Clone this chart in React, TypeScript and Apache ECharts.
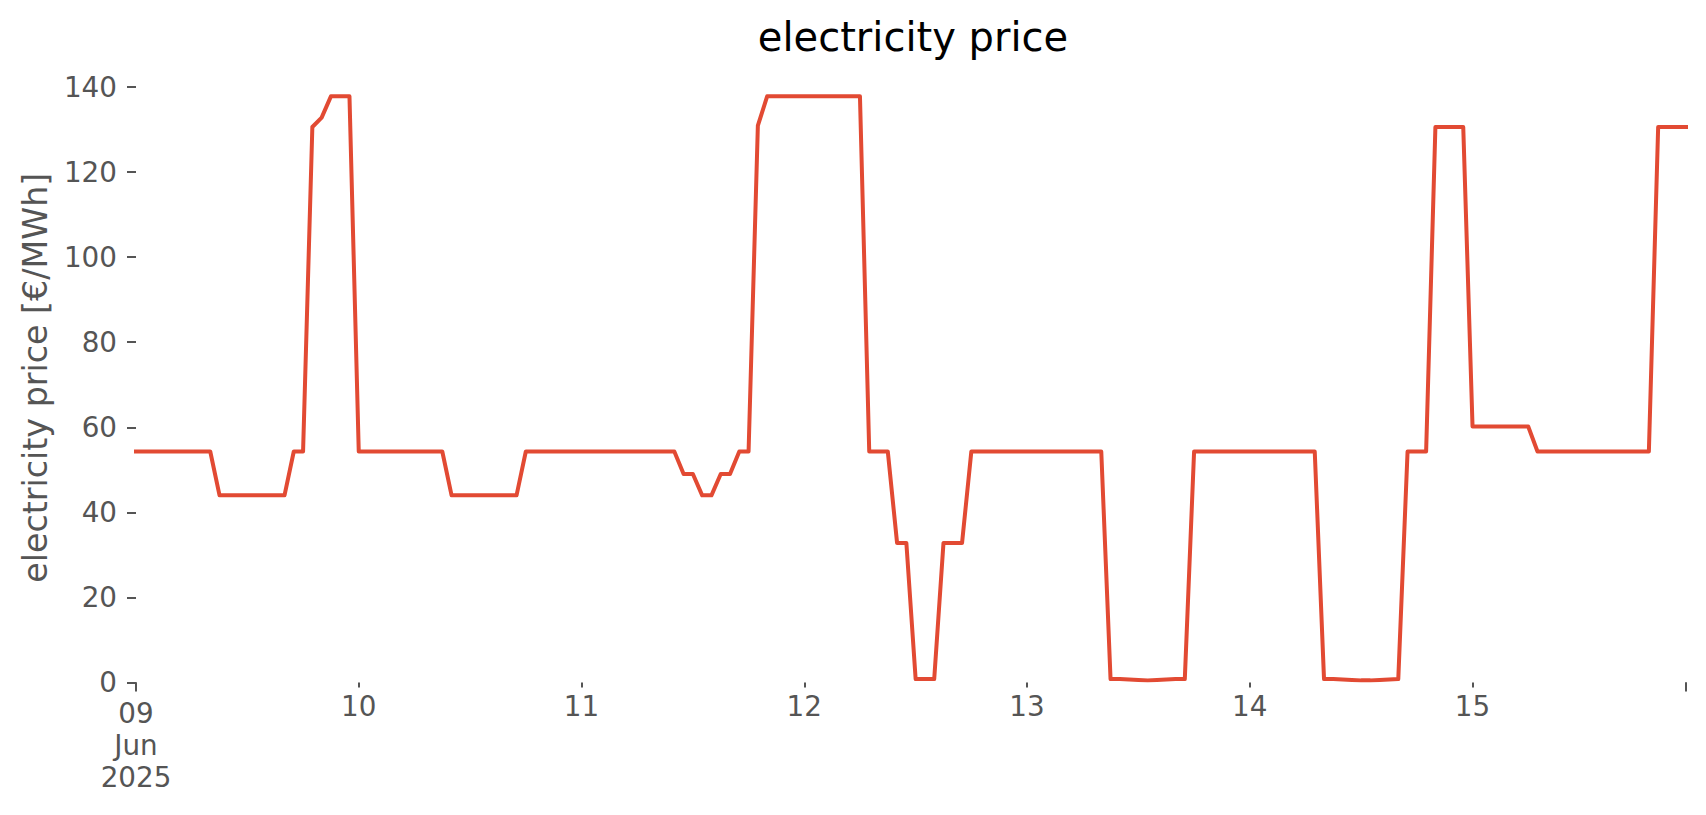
import React, { useEffect, useRef } from 'react';
import * as echarts from 'echarts';

// Hourly electricity price [€/MWh], 09 Jun 2025 00:00 .. 15 Jun 2025 23:00
const dayLabels = ['09\nJun\n2025', '10', '11', '12', '13', '14', '15'];

const jun09 = [
  54.3, 54.3, 54.3, 54.3, 54.3, 54.3, 54.3, 54.3, 54.3,
  44.0, 44.0, 44.0, 44.0, 44.0, 44.0, 44.0, 44.0,
  54.3, 54.3,
  130.6, 132.8, 137.8, 137.8, 137.8,
];
const jun10 = [
  54.3, 54.3, 54.3, 54.3, 54.3, 54.3, 54.3, 54.3, 54.3, 54.3,
  44.0, 44.0, 44.0, 44.0, 44.0, 44.0, 44.0, 44.0,
  54.3, 54.3, 54.3, 54.3, 54.3, 54.3,
];
const jun11 = [
  54.3, 54.3, 54.3, 54.3, 54.3, 54.3, 54.3, 54.3, 54.3, 54.3, 54.3,
  49.0, 49.0, 44.0, 44.0, 49.0, 49.0,
  54.3, 54.3,
  130.9, 137.8, 137.8, 137.8, 137.8,
];
const jun12 = [
  137.8, 137.8, 137.8, 137.8, 137.8, 137.8, 137.8,
  54.3, 54.3, 54.3,
  32.8, 32.8,
  0.8, 0.8, 0.8,
  32.8, 32.8, 32.8,
  54.3, 54.3, 54.3, 54.3, 54.3, 54.3,
];
const jun13 = [
  54.3, 54.3, 54.3, 54.3, 54.3, 54.3, 54.3, 54.3, 54.3,
  0.8, 0.8, 0.7, 0.6, 0.5, 0.6, 0.7, 0.8, 0.8,
  54.3, 54.3, 54.3, 54.3, 54.3, 54.3,
];
const jun14 = [
  54.3, 54.3, 54.3, 54.3, 54.3, 54.3, 54.3, 54.3,
  0.8, 0.8, 0.7, 0.6, 0.5, 0.5, 0.6, 0.7, 0.8,
  54.3, 54.3, 54.3,
  130.6, 130.6, 130.6, 130.6,
];
const jun15 = [
  60.2, 60.2, 60.2, 60.2, 60.2, 60.2, 60.2,
  54.3, 54.3, 54.3, 54.3, 54.3, 54.3, 54.3, 54.3, 54.3, 54.3, 54.3, 54.3, 54.3,
  130.6, 130.6, 130.6, 130.6,
];

const prices = [...jun09, ...jun10, ...jun11, ...jun12, ...jun13, ...jun14, ...jun15];
const lastHour = prices.length - 1;

const FONT = 'DejaVu Sans';
const GREY = '#555555';

export default function App() {
  const ref = useRef<HTMLDivElement>(null);

  useEffect(() => {
    if (!ref.current) return;
    const chart = echarts.init(ref.current, undefined, { renderer: 'svg' });
    chart.setOption({
      animation: false,
      backgroundColor: '#ffffff',
      title: {
        text: 'electricity price',
        left: 908,
        top: 12,
        textAlign: 'center',
        textStyle: { fontFamily: FONT, fontSize: 40, fontWeight: 'normal', color: '#000000' },
      },
      grid: { left: 136, right: 20, top: 87, bottom: 132.5, containLabel: false },
      xAxis: [
        {
          type: 'value',
          min: 0,
          max: lastHour,
          interval: 24,
          axisLine: { show: false },
          splitLine: { show: false },
          axisTick: { show: true, length: 5, lineStyle: { color: GREY, width: 2 } },
          axisLabel: {
            show: true,
            margin: 10,
            fontFamily: FONT,
            fontSize: 27.8,
            color: GREY,
            formatter: (v: number) => {
              if (v > 0 && v % 24 === 0 && v / 24 < dayLabels.length) return dayLabels[v / 24];
              return '';
            },
          },
        },
        {
          type: 'value',
          position: 'bottom',
          offset: 0,
          min: 0,
          max: lastHour,
          interval: lastHour,
          axisLine: { show: false },
          splitLine: { show: false },
          axisTick: { show: true, length: 9, lineStyle: { color: GREY, width: 2 } },
          axisLabel: {
            show: true,
            margin: 15,
            fontFamily: FONT,
            fontSize: 27.8,
            lineHeight: 32,
            color: GREY,
            formatter: (v: number) => (v === 0 ? dayLabels[0] : ''),
          },
        },
      ],
      yAxis: {
        type: 'value',
        min: 0,
        max: 140,
        interval: 20,
        name: 'electricity price [€/MWh]',
        nameLocation: 'middle',
        nameGap: 84,
        nameRotate: 90,
        nameTextStyle: { fontFamily: FONT, fontSize: 33.3, color: GREY, padding: [0, 0, 0, 14] },
        axisLine: { show: false },
        splitLine: { show: false },
        axisTick: { show: true, length: 9, lineStyle: { color: GREY, width: 2 } },
        axisLabel: { margin: 19, fontFamily: FONT, fontSize: 27.8, color: GREY },
      },
      series: [
        {
          type: 'line',
          xAxisIndex: 0,
          data: prices.map((v, i) => [i, v]),
          showSymbol: false,
          symbol: 'none',
          lineStyle: { color: '#E24A33', width: 4, join: 'round', cap: 'square' },
          clip: false,
        },
      ],
    });
    return () => chart.dispose();
  }, []);

  return (
    <div
      ref={ref}
      style={{ position: 'fixed', left: 0, top: 0, width: 1706, height: 815, background: '#fff' }}
    />
  );
}
